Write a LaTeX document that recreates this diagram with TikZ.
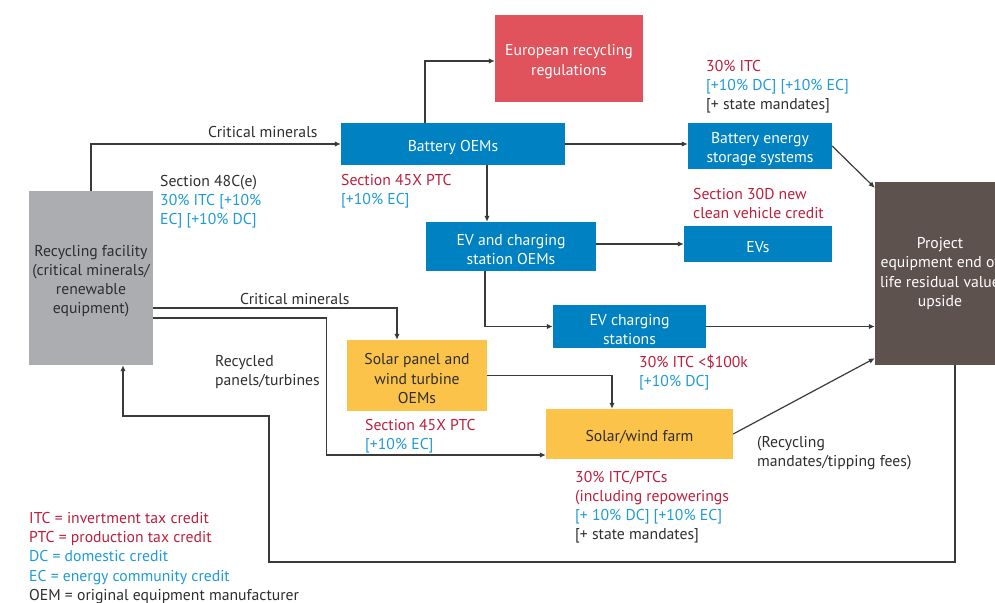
\documentclass[tikz,border=0pt]{standalone}
\usepackage{fontspec}
\setmainfont{PT Sans}
\usetikzlibrary{arrows.meta}
\definecolor{boxblue}{HTML}{0081C1}
\definecolor{redbox}{HTML}{E0535D}
\definecolor{yellowbox}{HTML}{FCC34B}
\definecolor{recgray}{HTML}{ACADB0}
\definecolor{brownbox}{HTML}{5E524F}
\definecolor{txtred}{HTML}{BE1E3C}
\definecolor{txtblue}{HTML}{1E9BD7}
\definecolor{darktxt}{HTML}{2E2E2E}
\definecolor{linec}{HTML}{3A3A3A}
\newcommand{\lblfont}{\fontsize{15.7}{19.3}\selectfont}
\newcommand{\topstrut}{\rule{0pt}{17.5pt}}
\tikzset{
  box/.style={draw=none, inner sep=0pt, align=center, font=\lblfont},
  conn/.style={draw=linec, line width=1.2pt, -{Latex[length=6pt,width=5.5pt]}},
  lbl/.style={anchor=base west, inner sep=0pt, align=left, font=\lblfont, text=darktxt},
}
\begin{document}
\begin{tikzpicture}[x=1pt,y=-1pt]
\useasboundingbox (0,0) rectangle (995,602);
\clip (0,0) rectangle (995,602);
% boxes
\node[box, fill=recgray, text=darktxt, minimum width=124pt, minimum height=174pt] (rec) at (91,278) {\topstrut Recycling facility\\(critical minerals/\\renewable\\equipment)};
\node[box, fill=boxblue, text=white, minimum width=224pt, minimum height=42pt] (bat) at (453,144) {\topstrut Battery OEMs};
\node[box, fill=redbox, text=white, minimum width=148pt, minimum height=87pt] (eur) at (569,58.5) {\topstrut European recycling\\regulations};
\node[box, fill=boxblue, text=white, minimum width=144pt, minimum height=46pt] (bess) at (760,146) {\topstrut Battery energy\\storage systems};
\node[box, fill=boxblue, text=white, minimum width=170pt, minimum height=49pt] (evo) at (511,246.5) {\topstrut EV and charging\\station OEMs};
\node[box, fill=boxblue, text=white, minimum width=148pt, minimum height=36pt] (evs) at (758,244) {\topstrut EVs};
\node[box, fill=boxblue, text=white, minimum width=153pt, minimum height=43pt] (evc) at (629.5,326.5) {\topstrut EV charging\\stations};
\node[box, fill=yellowbox, text=darktxt, minimum width=140pt, minimum height=71pt] (sol) at (417,375.5) {\topstrut Solar panel and\\wind turbine\\OEMs};
\node[box, fill=yellowbox, text=darktxt, minimum width=187pt, minimum height=50pt] (farm) at (639.5,434) {\topstrut Solar/wind farm};
\node[box, fill=brownbox, text=white, minimum width=130pt, minimum height=183pt] (proj) at (940,273.5) {Project\\equipment end of\\life residual value\\upside};
% connectors
\coordinate (lp1) at (269,562);
\coordinate (lp2) at (123,416);
\draw[conn] (rec.north) |- (bat.west);
\draw[conn] ([xshift=-28pt]bat.north) |- ([yshift=-2.5pt]eur.west);
\draw[conn] (bat.east) -- (bat.east -| bess.west);
\draw[conn] ([xshift=34pt]bat.south) -- ([xshift=34pt]bat.south |- evo.north);
\draw[conn] (evo.east |- evs.west) -- (evs.west);
\draw[conn] ([xshift=-26pt]evo.south) |- (evc.west);
\draw[conn] (evc.east) -- (evc.east -| proj.west);
\draw[conn] (bess.east) -- ([yshift=-6pt]proj.north west);
\draw[conn] (farm.east) -- ([yshift=7pt]proj.south west);
\draw[conn] ([yshift=-30pt]rec.east) -| ([xshift=-20pt]sol.north);
\draw[conn] ([yshift=-40pt]rec.east) -- ++(173,0) |- ([yshift=-21pt]farm.west);
\draw[conn] (sol.east) -| ([xshift=-27.5pt]farm.north);
\draw[conn] ([xshift=15pt]proj.south) |- (lp1) |- (lp2) -- ([xshift=32pt]rec.south);
% labels (anchored at the baseline of their last line)
\node[lbl] (lcm1) at (208,137.7) {Critical minerals};
\node[lbl] (lcm2) at (240,304.7) {Critical minerals};
\node[lbl] (l48) at (160,224.6) {Section 48C(e)\\\textcolor{txtblue}{30\% ITC [+10\%}\\\textcolor{txtblue}{EC] [+10\% DC]}};
\node[lbl, text=txtred] (l45a) at (341,204.3) {Section 45X PTC\\\textcolor{txtblue}{[+10\% EC]}};
\node[lbl, text=txtred] (litc) at (706,109.6) {30\% ITC\\\textcolor{txtblue}{[+10\% DC] [+10\% EC]}\\\textcolor{darktxt}{[+ state mandates]}};
\node[lbl, text=txtred] (l30d) at (693,218.3) {Section 30D new\\clean vehicle credit};
\node[lbl, text=txtred] (l100) at (639,386.8) {30\% ITC <\$100k\\\textcolor{txtblue}{[+10\% DC]}};
\node[lbl, text=txtred] (l45b) at (365,449.3) {Section 45X PTC\\\textcolor{txtblue}{[+10\% EC]}};
\node[lbl, text=txtred] (lptc) at (575,539.9) {30\% ITC/PTCs\\(including repowerings\\\textcolor{txtblue}{[+ 10\% DC] [+10\% EC]}\\\textcolor{darktxt}{[+ state mandates]}};
\node[lbl] (lrm) at (757,466.3) {(Recycling\\mandates/tipping fees)};
\node[lbl] (lrp) at (215,385.3) {Recycled\\panels/turbines};
\node[lbl] (leg) at (29,600.5) {\textcolor{txtred}{ITC = invertment tax credit}\\\textcolor{txtred}{PTC = production tax credit}\\\textcolor{txtblue}{DC = domestic credit}\\\textcolor{txtblue}{EC = energy community credit}\\OEM = original equipment manufacturer};
\end{tikzpicture}
\end{document}
